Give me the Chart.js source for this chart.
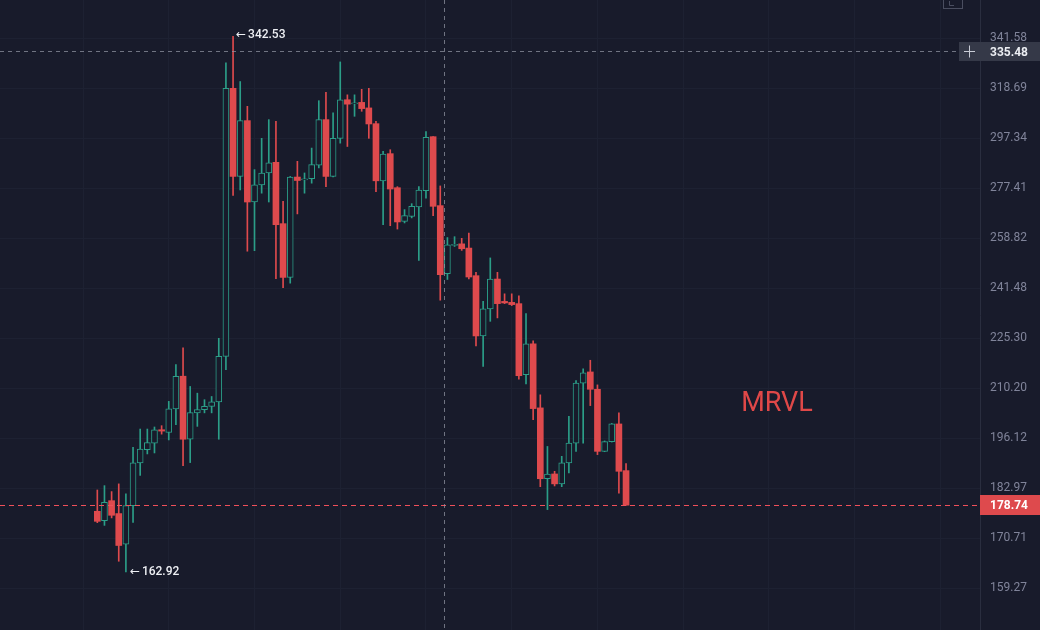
<!DOCTYPE html>
<html>
<head>
<meta charset="utf-8">
<title>MRVL</title>
<script src="https://cdn.jsdelivr.net/npm/chart.js@4.4.1/dist/chart.umd.min.js"></script>
<style>
  html, body { margin: 0; padding: 0; background: #181b2b; }
  #wrap { width: 1040px; height: 630px; position: relative; }
</style>
</head>
<body>
<div id="wrap"><canvas id="chart"></canvas></div>
<script>
// daily candles, oldest first
var opens = [177.23, 174.95, 179.86, 176.67, 169.34, 178.63, 189.55, 193.04, 194.80, 198.46,
  197.70, 204.29, 213.76, 195.86, 203.16, 204.09, 205.02, 206.26, 219.74, 318.69,
  282.03, 304.73, 272.20, 278.73, 283.39, 287.61, 264.14, 245.16, 281.79, 280.70,
  281.12, 286.42, 305.15, 282.03, 297.34, 313.69, 311.90, 312.54, 310.15, 303.45,
  280.32, 291.08, 277.65, 264.99, 266.85, 270.34, 276.52, 298.02, 270.83, 246.44,
  256.30, 256.84, 255.35, 245.75, 226.04, 234.68, 244.61, 237.14, 236.82, 236.40,
  214.22, 223.58, 204.57, 185.42, 186.65, 184.10, 189.55, 194.80, 211.71, 215.03,
  209.92, 192.60, 195.23, 200.06, 187.52];
var highs = [182.55, 183.65, 182.14, 184.10, 181.57, 193.65, 198.65, 198.65, 199.22, 199.58,
  206.43, 217.24, 222.31, 210.74, 208.79, 206.91, 207.83, 225.30, 330.14, 342.53,
  321.71, 310.83, 284.70, 297.34, 305.15, 304.43, 272.43, 282.03, 288.01, 283.39,
  293.35, 313.27, 316.98, 308.02, 330.59, 315.83, 315.83, 318.26, 318.69, 304.43,
  292.00, 292.68, 278.05, 269.34, 271.57, 278.05, 300.16, 298.10, 278.33, 259.10,
  259.41, 258.82, 260.68, 246.89, 237.14, 251.88, 246.89, 239.64, 239.64, 238.99,
  233.16, 224.48, 208.31, 193.91, 187.34, 191.28, 202.20, 212.50, 215.94, 218.54,
  211.20, 195.40, 200.20, 203.16, 189.36];
var lows = [174.46, 173.80, 175.61, 165.36, 162.92, 174.54, 186.28, 191.91, 192.17, 197.25,
  195.67, 199.87, 188.84, 189.62, 199.39, 203.16, 203.16, 195.86, 215.73, 274.66,
  276.78, 254.24, 254.42, 275.55, 272.20, 244.71, 241.69, 243.21, 267.74, 275.55,
  279.40, 285.38, 278.05, 281.80, 295.35, 293.99, 306.56, 308.70, 297.34, 276.15,
  263.76, 263.39, 262.17, 264.40, 266.26, 251.05, 273.69, 267.11, 237.53, 244.46,
  255.91, 254.52, 244.61, 222.97, 216.72, 230.67, 231.77, 236.40, 235.76, 212.92,
  211.50, 201.27, 183.39, 177.65, 183.57, 183.39, 186.92, 192.60, 194.80, 205.22,
  191.73, 192.50, 195.10, 181.74, 178.74];
var closes = [174.78, 179.44, 176.25, 169.02, 178.63, 189.55, 193.23, 194.96, 198.46, 198.09,
  204.29, 213.76, 195.86, 203.24, 204.09, 205.02, 206.26, 219.74, 318.69, 282.03,
  304.73, 272.20, 278.73, 283.39, 287.38, 263.76, 245.16, 281.79, 280.44, 281.00,
  286.70, 305.15, 282.03, 297.34, 313.69, 311.77, 312.29, 309.85, 303.32, 280.32,
  290.96, 277.15, 264.77, 267.11, 270.57, 276.78, 297.77, 270.57, 246.09, 256.50,
  256.50, 255.11, 245.30, 226.04, 234.68, 244.61, 236.40, 236.63, 236.08, 213.91,
  223.58, 204.37, 185.42, 186.65, 184.10, 189.55, 194.80, 211.71, 214.73, 209.92,
  192.60, 195.23, 200.06, 187.34, 178.74];

var priceTicks = [341.58, 318.69, 297.34, 277.41, 258.82, 241.48, 225.30, 210.20, 196.12, 182.97, 170.71, 159.27];
var timeGrid = [-8, 4, 16, 28, 40, 52, 64, 76, 88, 100, 112];

var symbol = "MRVL";
var lastPrice = 178.74;
var crossPrice = 335.48;
var crossIndex = 48.5;

var bg = "#181b2b";
var upColor = "#2b9e88";
var downColor = "#de4a4d";
var gridColor = "#1d2132";
var font = 'Roboto, "Noto Sans", sans-serif';

var isUp = closes.map(function (c, i) { return c >= opens[i]; });

// high / low marks: index of max high and min low
var hiIdx = highs.indexOf(Math.max.apply(null, highs));
var loIdx = lows.indexOf(Math.min.apply(null, lows));

function note(ctx, text, x, y) {
  ctx.font = '12px "DejaVu Sans", sans-serif';
  ctx.fillText("\u2190", x, y);
  ctx.font = "500 12px " + font;
  ctx.fillText(text, x + 12, y);
}

var overlay = {
  id: "overlay",
  afterDatasetsDraw: function (chart) {
    var ctx = chart.ctx, y = chart.scales.y;
    ctx.save();
    ctx.lineWidth = 1;
    ctx.setLineDash([5, 4]);
    // last price line
    var ly = Math.round(y.getPixelForValue(lastPrice)) + 0.5;
    ctx.strokeStyle = "#f0505a";
    ctx.beginPath(); ctx.moveTo(0, ly); ctx.lineTo(y.left, ly); ctx.stroke();
    ctx.restore();
  },
  afterDraw: function (chart) {
    var ctx = chart.ctx, x = chart.scales.x, y = chart.scales.y;
    ctx.save();
    ctx.lineWidth = 1;
    ctx.setLineDash([4, 4]);
    ctx.strokeStyle = "rgba(150,154,168,0.7)";
    // crosshair
    var cx = Math.round(x.getPixelForValue(crossIndex)) + 0.5;
    ctx.beginPath(); ctx.moveTo(cx, 0); ctx.lineTo(cx, chart.height); ctx.stroke();
    var cy = Math.round(y.getPixelForValue(crossPrice)) + 0.5;
    ctx.beginPath(); ctx.moveTo(0, cy); ctx.lineTo(y.left - 21, cy); ctx.stroke();
    ctx.setLineDash([]);

    // crosshair price tag
    ctx.fillStyle = "#353948";
    ctx.fillRect(y.left - 21, cy - 9.5, chart.width - y.left + 21, 19);
    ctx.strokeStyle = "#c9ccd6";
    ctx.beginPath();
    ctx.moveTo(y.left - 16, cy); ctx.lineTo(y.left - 5, cy);
    ctx.moveTo(y.left - 10.5, cy - 6); ctx.lineTo(y.left - 10.5, cy + 6);
    ctx.stroke();
    ctx.font = "bold 12px " + font;
    ctx.textBaseline = "middle";
    ctx.textAlign = "left";
    ctx.fillStyle = "#eceef3";
    ctx.fillText(crossPrice.toFixed(2), y.left + 10, cy + 1);

    // last price tag
    var ly = y.getPixelForValue(lastPrice);
    ctx.fillStyle = "#de4a4d";
    ctx.fillRect(y.left, Math.round(ly) - 10, chart.width - y.left, 20);
    ctx.fillStyle = "#ffffff";
    ctx.fillText(lastPrice.toFixed(2), y.left + 10, ly + 1);

    // high / low notes
    ctx.fillStyle = "#eef0f4";
    note(ctx, highs[hiIdx].toFixed(2), x.getPixelForValue(hiIdx) + 3, y.getPixelForValue(highs[hiIdx]) - 1);
    note(ctx, lows[loIdx].toFixed(2), x.getPixelForValue(loIdx) + 4, y.getPixelForValue(lows[loIdx]));

    // symbol watermark
    ctx.font = "27px " + font;
    ctx.fillStyle = "#e04848";
    ctx.textAlign = "center";
    ctx.fillText(symbol, 777, 404);

    // small corner button
    ctx.strokeStyle = "#4a4e60";
    ctx.strokeRect(943.5, -1.5, 19, 10);
    ctx.beginPath();
    ctx.moveTo(949.5, 1); ctx.lineTo(949.5, 5.5); ctx.lineTo(954, 5.5);
    ctx.stroke();
    ctx.restore();
  }
};

new Chart(document.getElementById("chart"), {
  type: "bar",
  data: {
    datasets: [{
      label: "wick",
      data: lows.map(function (l, i) { return { x: i, y: [l, highs[i]] }; }),
      backgroundColor: isUp.map(function (u) { return u ? upColor : downColor; }),
      borderWidth: 0,
      barThickness: 1,
      grouped: false,
      order: 2
    }, {
      label: "body",
      data: opens.map(function (o, i) { return { x: i, y: [o, closes[i]] }; }),
      backgroundColor: isUp.map(function (u) { return u ? bg : downColor; }),
      borderColor: isUp.map(function (u) { return u ? upColor : downColor; }),
      borderWidth: isUp.map(function (u) { return u ? 1 : 0; }),
      borderSkipped: false,
      barThickness: 6,
      minBarLength: 1,
      grouped: false,
      order: 1
    }]
  },
  options: {
    responsive: true,
    maintainAspectRatio: false,
    animation: false,
    layout: { padding: 0 },
    plugins: { legend: { display: false }, tooltip: { enabled: false } },
    scales: {
      x: {
        type: "linear",
        min: -13.62,
        max: 123.54,
        offset: false,
        grid: { color: gridColor, drawTicks: false },
        border: { display: false },
        ticks: { display: false },
        afterBuildTicks: function (s) { s.ticks = timeGrid.map(function (v) { return { value: v }; }); }
      },
      y: {
        type: "logarithmic",
        position: "right",
        min: 150.32,
        max: 360.24,
        grid: { color: gridColor, drawTicks: false },
        border: { color: "#2a2e3f" },
        ticks: {
          color: "#80849a",
          padding: 10,
          font: { size: 12, family: font },
          callback: function (v) { return Number(v).toFixed(2); }
        },
        afterBuildTicks: function (s) { s.ticks = priceTicks.map(function (v) { return { value: v }; }); },
        afterFit: function (s) { s.width = 60; s.paddingTop = 0; s.paddingBottom = 0; }
      }
    }
  },
  plugins: [overlay]
});
</script>
</body>
</html>
